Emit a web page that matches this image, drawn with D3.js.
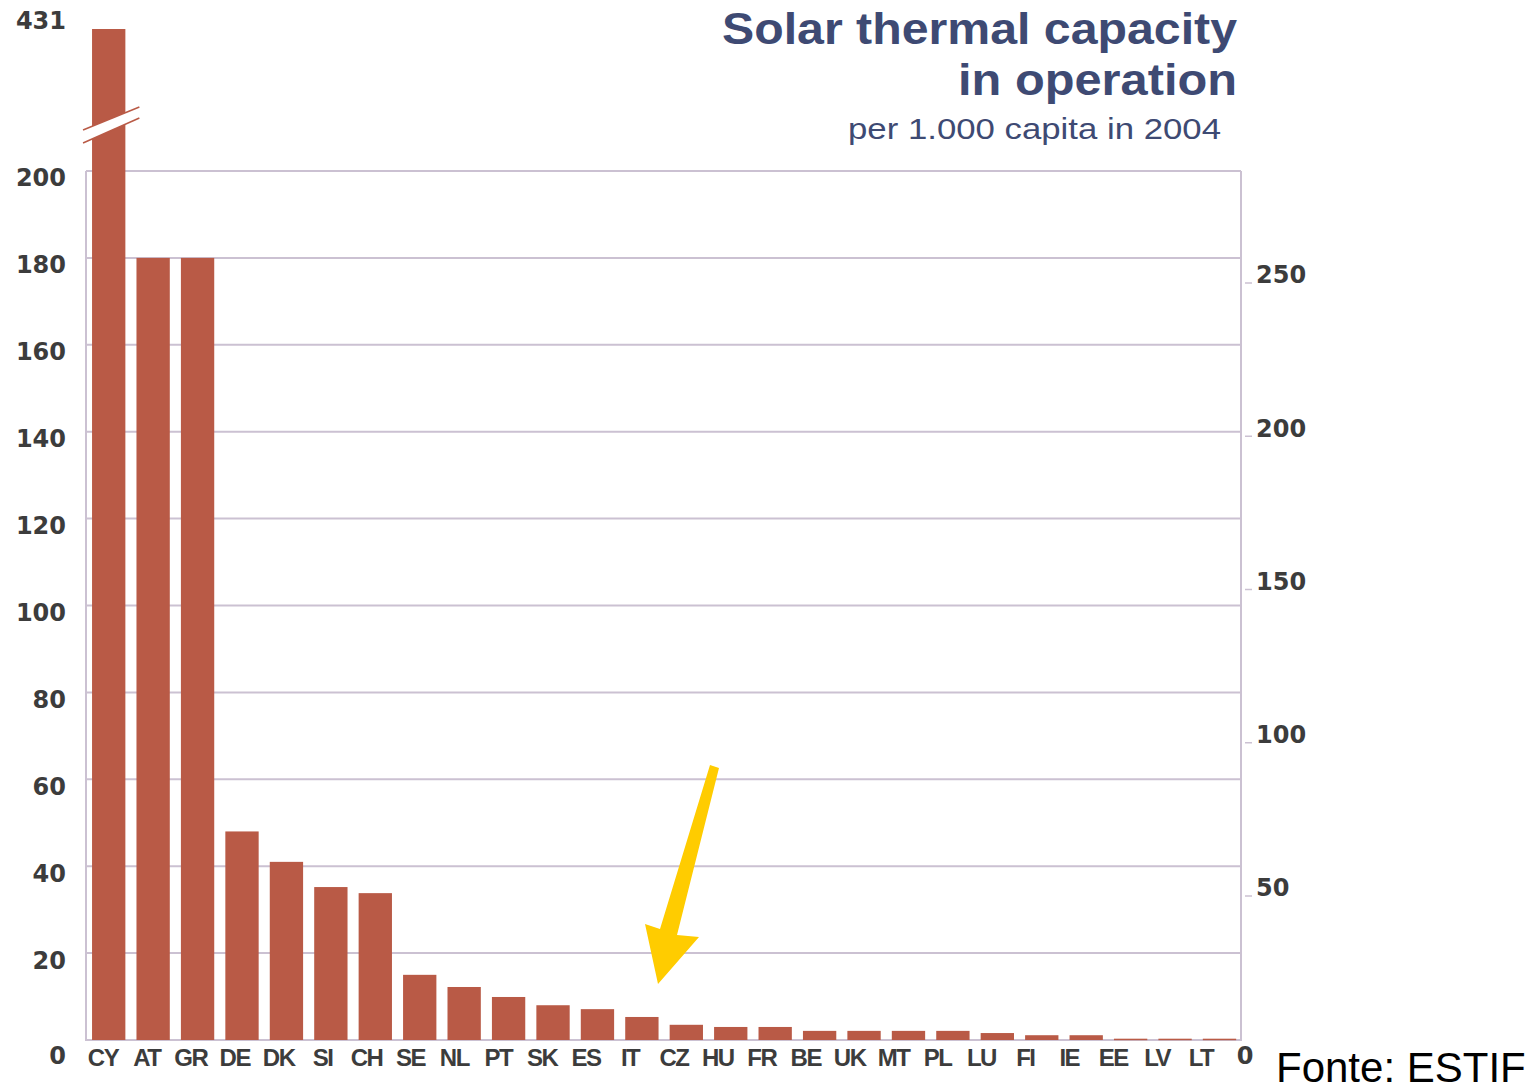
<!DOCTYPE html>
<html>
<head>
<meta charset="utf-8">
<script src="https://cdn.jsdelivr.net/npm/d3@7"></script>
<style>
  body { margin: 0; background: #fff; }
  svg { display: block; }
</style>
</head>
<body>
<div id="chart"></div>
<script>
// data
const countries = ["CY","AT","GR","DE","DK","SI","CH","SE","NL","PT","SK","ES","IT",
                   "CZ","HU","FR","BE","UK","MT","PL","LU","FI","IE","EE","LV","LT"];
const capacity = [431, 180, 180, 48, 41, 35.2, 33.8, 15, 12.2, 9.9, 8, 7.1, 5.3,
                  3.5, 3, 3, 2.1, 2.1, 2.1, 2.1, 1.6, 1.1, 1.1, 0.3, 0.3, 0.3];
const leftTicks = [20, 40, 60, 80, 100, 120, 140, 160, 180, 200];
const rightTicks = [50, 100, 150, 200, 250];

const width = 1540, height = 1087;
const barColor = "#b95a46", gridColor = "#cbc1d2", labelColor = "#3c3c3c";

let svg = d3.select("#chart").append("svg")
    .attr("width", width)
    .attr("height", height);

// frame of the plot
let plot = { left: 86, right: 1241, top: 171, bottom: 1040 };

// y scale with a break above 200 (CY only)
let y = d3.scaleLinear()
    .domain([0, 200, 431])
    .range([plot.bottom, plot.top, 29]);

// right hand axis (other unit)
let yRight = d3.scaleLinear()
    .domain([50, 250])
    .range([894, 281]);

let x = d3.scaleBand()
    .domain(countries)
    .range([87.6, 1240.6])
    .paddingInner(0.25)
    .paddingOuter(0.1);

// the country labels sit on a slightly tighter pitch than the bars
let xLabel = d3.scalePoint()
    .domain(countries)
    .range([103, 1201]);

// grid lines
svg.append("g").selectAll("line")
    .data(leftTicks)
    .enter()
    .append("line")
    .attr("x1", plot.left)
    .attr("x2", plot.right)
    .attr("y1", d => y(d))
    .attr("y2", d => y(d))
    .attr("stroke", gridColor)
    .attr("stroke-width", 2);

// frame
svg.append("path")
    .attr("d", `M${plot.left},${plot.top}V${plot.bottom}H${plot.right}V${plot.top}`)
    .attr("fill", "none")
    .attr("stroke", gridColor)
    .attr("stroke-width", 2);

// bars
svg.append("g").selectAll("rect")
    .data(capacity)
    .enter()
    .append("rect")
    .attr("x", (d, i) => x(countries[i]))
    .attr("y", d => y(d))
    .attr("width", x.bandwidth())
    .attr("height", d => Math.max(1.5, y(0) - y(d)))
    .attr("fill", barColor);

// axis break on CY bar
let bx0 = x("CY") - 9, bx1 = x("CY") + x.bandwidth() + 14;
let brk = svg.append("g");
brk.append("path")
    .attr("d", `M${bx0},${130}L${bx1},${107}L${bx1},${118}L${bx0},${143}Z`)
    .attr("fill", "#fff");
[[130, 107], [143, 118]].forEach(function(p) {
    brk.append("line")
        .attr("x1", bx0).attr("y1", p[0])
        .attr("x2", bx1).attr("y2", p[1])
        .attr("stroke", barColor)
        .attr("stroke-width", 1.5);
});

// left axis labels
let leftAxis = svg.append("g")
    .style("font-family", "DejaVu Sans")
    .style("font-weight", "bold")
    .style("font-size", "24px")
    .attr("fill", labelColor);

leftAxis.selectAll("text")
    .data(leftTicks.concat([431]))
    .enter()
    .append("text")
    .attr("x", 66)
    .attr("y", d => d === 431 ? 21 : y(d) + 7)
    .attr("dy", "0.35em")
    .attr("text-anchor", "end")
    .text(d => d);

leftAxis.append("text")
    .attr("x", 66)
    .attr("y", 1056)
    .attr("dy", "0.35em")
    .attr("text-anchor", "end")
    .text("0");

// right axis
let rightAxis = svg.append("g")
    .style("font-family", "DejaVu Sans")
    .style("font-weight", "bold")
    .style("font-size", "24px")
    .attr("fill", labelColor);

rightAxis.selectAll("line")
    .data(rightTicks)
    .enter()
    .append("line")
    .attr("x1", 1245)
    .attr("x2", 1252)
    .attr("y1", d => yRight(d) + 2)
    .attr("y2", d => yRight(d) + 2)
    .attr("stroke", gridColor)
    .attr("stroke-width", 1.5);

rightAxis.selectAll("text")
    .data(rightTicks)
    .enter()
    .append("text")
    .attr("x", 1256)
    .attr("y", d => yRight(d) - 6)
    .attr("dy", "0.35em")
    .text(d => d);

rightAxis.append("text")
    .attr("x", 1245)
    .attr("y", 1056)
    .attr("dy", "0.35em")
    .attr("text-anchor", "middle")
    .text("0");

// country labels
svg.append("g").selectAll("text")
    .data(countries)
    .enter()
    .append("text")
    .attr("x", d => xLabel(d))
    .attr("y", 1058)
    .attr("dy", "0.35em")
    .attr("text-anchor", "middle")
    .style("font-family", "Liberation Sans")
    .style("font-weight", "bold")
    .style("font-size", "24px")
    .style("letter-spacing", "-1.5px")
    .attr("fill", labelColor)
    .text(d => d);

// title
let title = svg.append("g")
    .style("font-family", "Liberation Sans")
    .attr("fill", "#3e4a73")
    .attr("text-anchor", "end");

title.append("text")
    .attr("x", 1237)
    .attr("y", 44)
    .attr("textLength", 515)
    .attr("lengthAdjust", "spacingAndGlyphs")
    .style("font-size", "45px")
    .style("font-weight", "bold")
    .text("Solar thermal capacity");

title.append("text")
    .attr("x", 1237)
    .attr("y", 95)
    .attr("textLength", 279)
    .attr("lengthAdjust", "spacingAndGlyphs")
    .style("font-size", "45px")
    .style("font-weight", "bold")
    .text("in operation");

title.append("text")
    .attr("x", 1221)
    .attr("y", 139)
    .attr("textLength", 373)
    .attr("lengthAdjust", "spacingAndGlyphs")
    .style("font-size", "29px")
    .text("per 1.000 capita in 2004");

// yellow arrow pointing at the small bars
svg.append("path")
    .attr("d", "M710,765L719,768L677,935L699,937L658,984L645,924L660,929Z")
    .attr("fill", "#ffcc00");

// source
svg.append("text")
    .attr("x", 1276)
    .attr("y", 1082)
    .style("font-family", "Liberation Sans")
    .style("font-size", "42px")
    .attr("fill", "#000")
    .text("Fonte: ESTIF");
</script>
</body>
</html>
